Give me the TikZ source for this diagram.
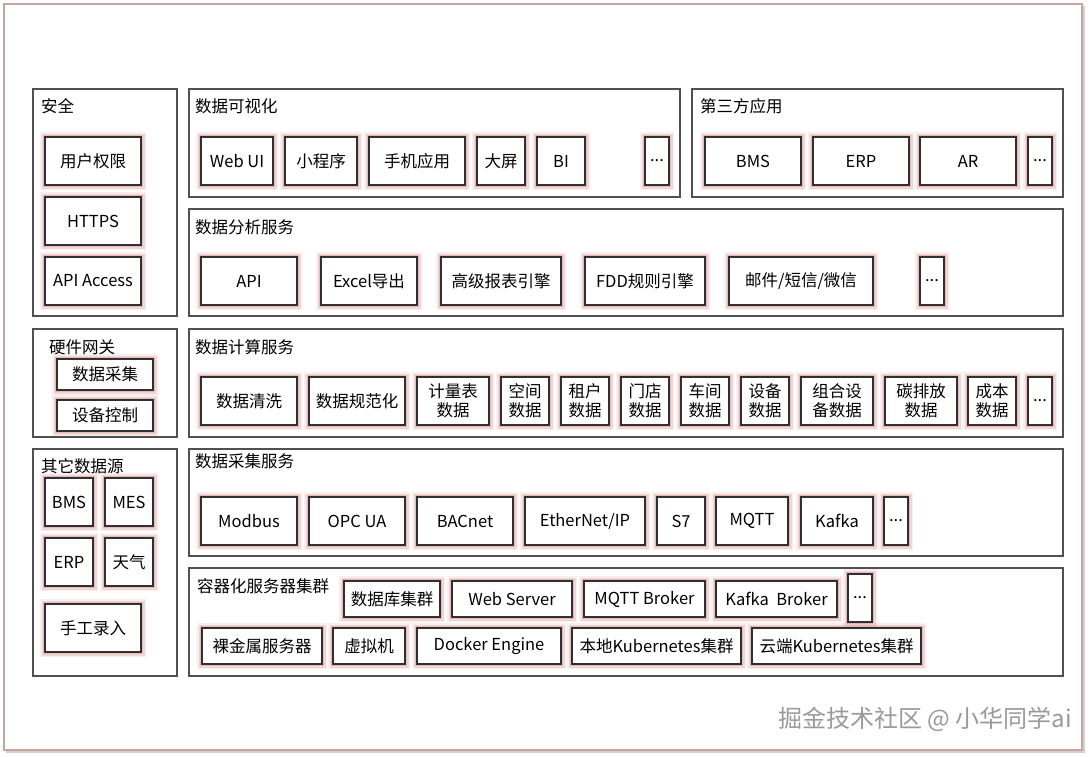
\documentclass[tikz,border=0pt]{standalone}
\usepackage{fontspec}
\setmainfont{Noto Sans CJK SC}
\usepackage{tikz}
\usetikzlibrary{positioning, calc}
\usepackage{xcolor}
\definecolor{archframe}{HTML}{C9A2A2}
\definecolor{archpanel}{HTML}{505050}
\definecolor{archline}{HTML}{303030}
\definecolor{archglow}{HTML}{D98C8C}
\definecolor{archmark}{HTML}{9A9A9A}

\tikzset{
  panel/.style={draw=archpanel, line width=1.1pt},
  title/.style={anchor=west, inner sep=0pt},
  unit/.style={draw=archline, line width=1.1pt, fill=white, minimum height=48,
    inner sep=1pt, align=center,
    preaction={draw=archglow, line width=10, opacity=.14},
    preaction={draw=archglow, line width=7, opacity=.24},
    preaction={draw=archglow, line width=4, opacity=.38}},
  slim/.style={unit, minimum height=36},
}

\begin{document}
\begin{tikzpicture}[x=1pt, y=-1pt, every node/.style={font=\fontsize{16.5}{19}\selectfont}]
  \useasboundingbox (0,0) rectangle (1092,756);

  % outer frame
  \draw[gray!35, line width=1.5pt] (7,7) rectangle (1084,752);
  \draw[archframe, line width=1.2pt, fill=white] (4,4) rectangle (1082,750);

  % panels
  \draw[panel] (33,89) rectangle (177,316);
  \draw[panel] (189,89) rectangle (680,197);
  \draw[panel] (692,89) rectangle (1063,197);
  \draw[panel] (189,209) rectangle (1063,316);
  \draw[panel] (33,329) rectangle (177,437);
  \draw[panel] (189,329) rectangle (1063,437);
  \draw[panel] (33,449) rectangle (177,676);
  \draw[panel] (189,449) rectangle (1063,556);
  \draw[panel] (189,568) rectangle (1063,676);

  % panel titles
  \node[title] (tsec) at (41,106) {安全};
  \node[title] (tvis) at (195,106) {数据可视化};
  \node[title] (tthird) at (700,106) {第三方应用};
  \node[title] (tana) at (195,227) {数据分析服务};
  \node[title] (tgw) at (49,347) {硬件网关};
  \node[title] (tcalc) at (195,347) {数据计算服务};
  \node[title] (tsrc) at (41,466) {其它数据源};
  \node[title] (tcol) at (195,461) {数据采集服务};
  \node[title] (tbox) at (197,586) {容器化服务器集群};

  % 安全
  \node[unit, minimum width=96] (perm) at (93,161) {用户权限};
  \node[unit, minimum width=96] (https) at (93,221) {HTTPS};
  \node[unit, minimum width=96] (apiacc) at (93,281) {API Access};

  % 数据可视化
  \node[unit, minimum width=72] (webui) at (237,161) {Web UI};
  \node[unit, minimum width=72] (miniapp) at (321,161) {小程序};
  \node[unit, minimum width=96] (mobile) at (417,161) {手机应用};
  \node[unit, minimum width=48] (screen) at (501,161) {大屏};
  \node[unit, minimum width=48] (bi) at (561,161) {BI};
  \node[unit, minimum width=24] (visdots) at (657,161) {...};

  % 第三方应用
  \node[unit, minimum width=96] (bms) at (753,161) {BMS};
  \node[unit, minimum width=96] (erp) at (861,161) {ERP};
  \node[unit, minimum width=96] (ar) at (968,161) {AR};
  \node[unit, minimum width=24] (thirddots) at (1040,161) {...};

  % 数据分析服务
  \node[unit, minimum width=96] (api) at (249,281) {API};
  \node[unit, minimum width=96] (excel) at (369,281) {Excel导出};
  \node[unit, minimum width=120] (report) at (501,281) {高级报表引擎};
  \node[unit, minimum width=120] (fdd) at (645,281) {FDD规则引擎};
  \node[unit, minimum width=144] (notify) at (801,281) {邮件/短信/微信};
  \node[unit, minimum width=24] (anadots) at (932,281) {...};

  % 硬件网关
  \node[unit, minimum width=96, minimum height=31] (acq) at (105,374.5) {数据采集};
  \node[unit, minimum width=96, minimum height=31] (ctrl) at (105,415.5) {设备控制};

  % 数据计算服务
  \node[unit, minimum width=96] (clean) at (249,401) {数据清洗};
  \node[unit, minimum width=96] (norm) at (357,401) {数据规范化};
  \node[unit, minimum width=72] (meter) at (453,401) {计量表\\数据};
  \node[unit, minimum width=48] (space) at (525,401) {空间\\数据};
  \node[unit, minimum width=48] (tenant) at (585,401) {租户\\数据};
  \node[unit, minimum width=48] (store) at (645,401) {门店\\数据};
  \node[unit, minimum width=48] (shop) at (705,401) {车间\\数据};
  \node[unit, minimum width=48] (device) at (765,401) {设备\\数据};
  \node[unit, minimum width=72] (group) at (837,401) {组合设\\备数据};
  \node[unit, minimum width=72] (carbon) at (921,401) {碳排放\\数据};
  \node[unit, minimum width=48] (cost) at (992,401) {成本\\数据};
  \node[unit, minimum width=24] (calcdots) at (1040,401) {...};

  % 其它数据源
  \node[unit, minimum width=48] (srcbms) at (69,502) {BMS};
  \node[unit, minimum width=48] (srcmes) at (129,502) {MES};
  \node[unit, minimum width=48] (srcerp) at (69,562) {ERP};
  \node[unit, minimum width=48] (weather) at (129,562) {天气};
  \node[unit, minimum width=96] (manual) at (93,628) {手工录入};

  % 数据采集服务
  \node[unit, minimum width=96] (modbus) at (249,521) {Modbus};
  \node[unit, minimum width=96] (opcua) at (357,521) {OPC UA};
  \node[unit, minimum width=96] (bacnet) at (465,521) {BACnet};
  \node[unit, minimum width=120] (enip) at (585,521) {EtherNet/IP};
  \node[unit, minimum width=48] (s7) at (681,521) {S7};
  \node[unit, minimum width=72] (mqtt) at (752,521) {MQTT};
  \node[unit, minimum width=72] (kafka) at (837,521) {Kafka};
  \node[unit, minimum width=24] (coldots) at (896,521) {...};

  % 容器化服务器集群
  \node[slim, minimum width=96] (dbcluster) at (392,599) {数据库集群};
  \node[slim, minimum width=120] (websrv) at (512,599) {Web Server};
  \node[slim, minimum width=121] (mqttbroker) at (644.5,599) {MQTT Broker};
  \node[slim, minimum width=121] (kafkabroker) at (776.5,599) {Kafka\ \ Broker};
  \node[unit, minimum width=24] (boxdots) at (860,598) {...};
  \node[slim, minimum width=120] (baremetal) at (262,646) {裸金属服务器};
  \node[slim, minimum width=72] (vm) at (369,646) {虚拟机};
  \node[slim, minimum width=144] (docker) at (489,646) {Docker Engine};
  \node[slim, minimum width=169] (k8slocal) at (656.5,646) {本地Kubernetes集群};
  \node[slim, minimum width=169] (k8scloud) at (836.5,646) {云端Kubernetes集群};

  % watermark
  \node[anchor=east, inner sep=0pt, text=archmark, font=\fontsize{24}{28}\selectfont] (mark) at (1072,719) {掘金技术社区 @ 小华同学ai};
\end{tikzpicture}
\end{document}
